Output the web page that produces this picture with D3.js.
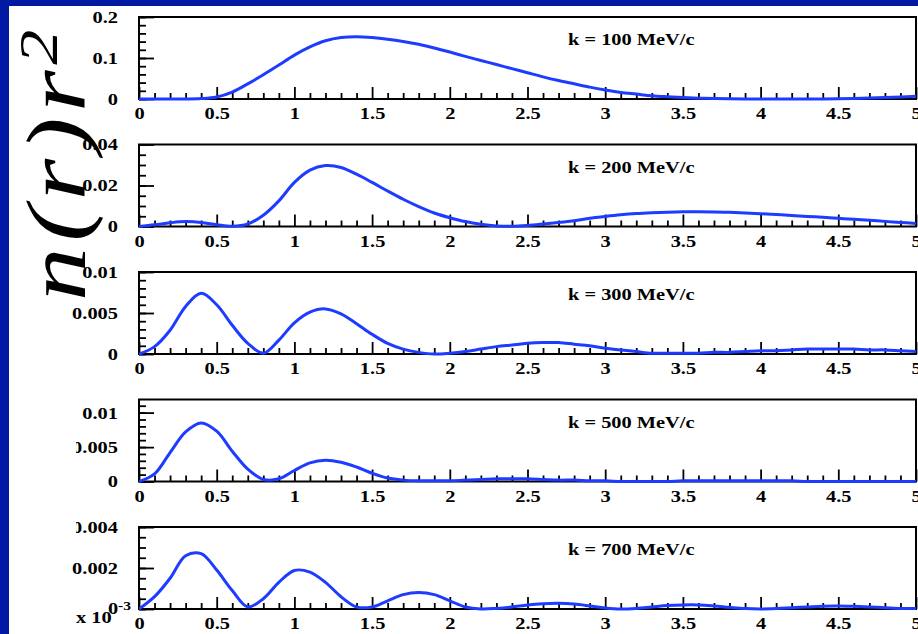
<!DOCTYPE html>
<html lang="en">
<head>
<meta charset="utf-8">
<title>n(r) r^2</title>
<script src="https://cdn.jsdelivr.net/npm/d3@7"></script>
<style>
  body { margin: 0; background: #0019a3; overflow: hidden; }
  text { font-family: 'Liberation Serif', 'Times New Roman', serif; font-weight: bold; font-size: 17px; fill: #000; }
</style>
</head>
<body>
<div id="chart"></div>
<script>
// r grid (fm), 0 .. 5 in steps of 0.1
let rValues = d3.range(51).map(i => i / 10);

// n(r) r^2, one list per momentum
let k100 = [0, 0, 0, 0, 0.001, 0.005, 0.017, 0.037, 0.059, 0.083,
  0.107, 0.127, 0.142, 0.150, 0.152, 0.150, 0.146, 0.1405, 0.1335, 0.1245,
  0.1145, 0.104, 0.094, 0.084, 0.074, 0.064, 0.054, 0.045, 0.037, 0.029,
  0.022, 0.016, 0.012, 0.008, 0.0055, 0.0035, 0.002, 0.001, 0.0005, 0.0002,
  0, 0, 0, 0, 0.0003, 0.0008, 0.0015, 0.0025, 0.0037, 0.005, 0.0065];
let k200 = [0, 0.0008, 0.0018, 0.0024, 0.002, 0.0009, 0.0001, 0.0012, 0.0055, 0.0125,
  0.0215, 0.0275, 0.0297, 0.0288, 0.0255, 0.0215, 0.0173, 0.0133, 0.0097, 0.0066,
  0.0043, 0.0024, 0.0011, 0.0003, 0.0001, 0.0005, 0.0012, 0.002, 0.0028, 0.004,
  0.0049, 0.0057, 0.0063, 0.0067, 0.007, 0.0072, 0.0072, 0.0071, 0.0069, 0.0066,
  0.0062, 0.0058, 0.0054, 0.0049, 0.0045, 0.004, 0.0035, 0.003, 0.0025, 0.002, 0.0015];
let k300 = [0, 0.0009, 0.0029, 0.0058, 0.0074, 0.006, 0.0035, 0.0013, 0.0001, 0.0017,
  0.0038, 0.0051, 0.0055, 0.0049, 0.0037, 0.0024, 0.0013, 0.0006, 0.0002, 0,
  0.0001, 0.0003, 0.0006, 0.0009, 0.0011, 0.0013, 0.0014, 0.0014, 0.0012, 0.001,
  0.0007, 0.0005, 0.0003, 0.0001, 0.0001, 0.0001, 0.0001, 0.0002, 0.0002, 0.0003,
  0.0004, 0.0004, 0.0005, 0.0006, 0.0006, 0.0006, 0.0006, 0.0005, 0.0005, 0.0004, 0.0003];
let k500 = [0, 0.0011, 0.0042, 0.0072, 0.0085, 0.0073, 0.0044, 0.0018, 0.0003, 0.0004,
  0.0016, 0.0027, 0.0031, 0.0028, 0.0021, 0.0012, 0.0005, 0.0002, 0.0001, 0.0001,
  0.0001, 0.0002, 0.0003, 0.0004, 0.0004, 0.0004, 0.0003, 0.0002, 0.0002, 0.0001,
  0.0001, 0, 0, 0, 0, 0.0001, 0.0001, 0.0001, 0.0001, 0.0001,
  0.0001, 0.0001, 0.0001, 0, 0, 0, 0, 0, 0, 0, 0];
let k700 = [0, 0.0006, 0.0015, 0.0026, 0.0027, 0.0019, 0.0009, 0.0001, 0.0005, 0.0013,
  0.00188, 0.0018, 0.0013, 0.0006, 0.0001, 0.0001, 0.0004, 0.0007, 0.0008, 0.0007,
  0.0004, 0.0001, 0, 0.00003, 0.0001, 0.0002, 0.00026, 0.00028, 0.00024, 0.00015,
  0.00005, 0, 0.00003, 0.0001, 0.00017, 0.0002, 0.0002, 0.00015, 0.00008, 0.00002,
  0, 0.00002, 0.00006, 0.0001, 0.00014, 0.00015, 0.00013, 0.0001, 0.00006, 0.00003, 0.00002];

let series = [k100, k200, k300, k500, k700];
let panelLabels = ['k = 100 MeV/c', 'k = 200 MeV/c', 'k = 300 MeV/c', 'k = 500 MeV/c', 'k = 700 MeV/c'];

// axes
let yMax = [0.2, 0.04, 0.01, 0.0119, 0.004];
let yMajor = [[0, 0.1, 0.2], [0, 0.02, 0.04], [0, 0.005, 0.01], [0, 0.005, 0.01], [0, 0.002, 0.004]];
let yTickLabels = [['0', '0.1', '0.2'], ['0', '0.02', '0.04'], ['0', '0.005', '0.01'], ['0', '0.005', '0.01'], ['', '0.002', '0.004']];
let yCutLabel = [-1, -1, -1, 1, 2]; // label that is cut on its left side in the picture
let yMinorStep = [0.02, 0.005, 0.001, 0.001, 0.0005];
let xMajor = [0, 0.5, 1, 1.5, 2, 2.5, 3, 3.5, 4, 4.5, 5];
let xTickLabels = ['0', '0.5', '1', '1.5', '2', '2.5', '3', '3.5', '4', '4.5', '5'];
let xMinor = d3.range(51).map(i => i / 10).filter((d, i) => i % 5 != 0);

let width = 918, height = 634;
let left = 139, right = 916;
let panelTop = 17, panelStep = 127.5, panelH = 82;
let stretch = 1.2; // text in the picture is drawn a little wide

let svg = d3.select('#chart').append('svg')
  .attr('width', width)
  .attr('height', height);

svg.append('rect').attr('width', width).attr('height', height).attr('fill', '#0019a3');
svg.append('rect').attr('x', 9).attr('y', 6).attr('width', width - 9).attr('height', height - 6).attr('fill', '#fff');

let x = d3.scaleLinear().domain([0, 5]).range([left, right]);

let defs = svg.append('defs');
defs.append('clipPath').attr('id', 'labelclip')
  .append('rect').attr('x', 76 - left).attr('y', -30).attr('width', 100).attr('height', 60);

series.forEach((vals, i) => {
  let top = panelTop + i * panelStep;
  let y = d3.scaleLinear().domain([0, yMax[i]]).range([top + panelH, top]);
  let g = svg.append('g');

  defs.append('clipPath').attr('id', 'frame' + i)
    .append('rect').attr('x', left).attr('y', top).attr('width', right - left).attr('height', panelH + 2);

  // x ticks, pointing up into the frame
  g.append('g').attr('transform', 'translate(0,' + (top + panelH) + ')')
    .call(d3.axisBottom(x).tickValues(xMinor).tickSize(-6).tickFormat(''))
    .call(a => a.select('.domain').remove());
  let xa = g.append('g').attr('transform', 'translate(0,' + (top + panelH) + ')')
    .call(d3.axisBottom(x).tickValues(xMajor).tickSize(-12).tickPadding(8)
      .tickFormat((d, j) => xTickLabels[j]))
    .call(a => a.select('.domain').remove());
  xa.selectAll('text').attr('transform', 'scale(' + stretch + ',1)');

  // y ticks, pointing right
  let minor = d3.range(0, Math.round(yMax[i] / yMinorStep[i]) + 1).map(j => j * yMinorStep[i])
    .filter(d => d <= yMax[i]);
  g.append('g').attr('transform', 'translate(' + left + ',0)')
    .call(d3.axisLeft(y).tickValues(minor).tickSize(-7).tickFormat(''))
    .call(a => a.select('.domain').remove());
  let ya = g.append('g').attr('transform', 'translate(' + left + ',0)')
    .call(d3.axisLeft(y).tickValues(yMajor[i]).tickSize(-15).tickPadding(21 / stretch)
      .tickFormat((d, j) => yTickLabels[i][j]))
    .call(a => a.select('.domain').remove());
  ya.selectAll('text').attr('transform', 'scale(' + stretch + ',1)');
  ya.selectAll('.tick').filter((d, j) => j == yCutLabel[i]).attr('clip-path', 'url(#labelclip)');

  g.selectAll('.tick line').attr('stroke', '#000').attr('stroke-width', 1.8);

  g.append('rect')
    .attr('x', left).attr('y', top)
    .attr('width', right - left).attr('height', panelH)
    .attr('fill', 'none').attr('stroke', '#000').attr('stroke-width', 2);

  g.append('path')
    .datum(vals)
    .attr('clip-path', 'url(#frame' + i + ')')
    .attr('fill', 'none')
    .attr('stroke', '#1e3cff')
    .attr('stroke-width', 3)
    .attr('stroke-linejoin', 'round')
    .attr('d', d3.line()
      .x((d, j) => x(rValues[j]))
      .y(d => y(d))
      .curve(d3.curveCatmullRom.alpha(0.5)));

  g.append('text')
    .attr('transform', 'translate(568,' + (top + 28) + ') scale(' + stretch + ',1)')
    .text(panelLabels[i]);
});

// exponent of the last panel
let lastBase = panelTop + 4 * panelStep + panelH;
svg.append('text')
  .attr('transform', 'translate(76,' + (lastBase + 14) + ') scale(' + stretch + ',1)')
  .text('x 10');
svg.append('text')
  .attr('transform', 'translate(108,' + (lastBase + 5) + ') scale(' + stretch + ',1)')
  .text('0');
svg.append('text')
  .attr('transform', 'translate(118,' + (lastBase + 1) + ') scale(' + stretch + ',1)')
  .style('font-size', '13px')
  .text('-3');

// big y title, written bottom to top
let title = svg.append('text')
  .attr('transform', 'translate(85,301) rotate(-90) scale(1.85,1.45)')
  .style('font-style', 'italic')
  .style('font-weight', 'normal')
  .style('font-size', '58px')
  .style('letter-spacing', '3px');
title.append('tspan').text('n(r)r');
title.append('tspan').attr('dy', -19).style('font-size', '38px').text('2');
</script>
</body>
</html>
